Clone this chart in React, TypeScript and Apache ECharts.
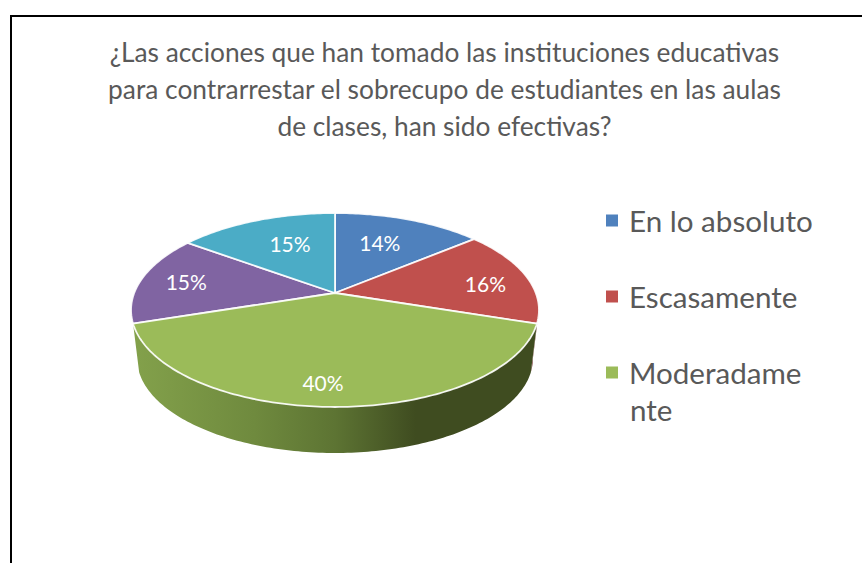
import React, { useEffect, useRef } from "react";
import * as echarts from "echarts";

const titleLines = [
  "¿Las acciones que han tomado las instituciones educativas",
  "para contrarrestar el sobrecupo de estudiantes en las aulas",
  "de clases, han sido efectivas?",
];
const categories = ["En lo absoluto", "Escasamente", "Moderadamente", "Categoria 4", "Categoria 5"];
const values = [14, 16, 40, 15, 15];
const legendCategories = ["En lo absoluto", "Escasamente", "Moderadamente"];
const colors = ["#4f81bd", "#c0504d", "#9bbb59", "#8064a2", "#4bacc6"];

const FONT = "Lato, Carlito, 'Open Sans', sans-serif";
const TEXT = "#595959";

// Perspective projection of the pie disc
const CX = 335;
const CY = 293;
const RA = 200.8;
const RB = 94;
const PERSP = 0.1753;
const DEPTH = 49.4;
const BOTTOM_SCALE = 0.97;

function project(deg: number, r = 1, k = 1, dy = 0): number[] {
  const t = (deg * Math.PI) / 180;
  const u = Math.sin(t) * r;
  const v = Math.cos(t) * r;
  const s = 1 / (1 + PERSP * v);
  return [CX + k * RA * u * s, CY + dy - k * RB * v * s];
}

function arc(a0: number, a1: number, k = 1, dy = 0): number[][] {
  const n = Math.max(2, Math.ceil(Math.abs(a1 - a0)));
  const out: number[][] = [];
  for (let i = 0; i <= n; i++) out.push(project(a0 + ((a1 - a0) * i) / n, 1, k, dy));
  return out;
}

const total = values.reduce((a, b) => a + b, 0);
const starts: number[] = [];
values.reduce((acc, v, i) => {
  starts[i] = (acc / total) * 360;
  return acc + v;
}, 0);

// label placement tuning per slice: radius factor and pixel nudge
const labelTune = [
  [0.6, -2, -4],
  [0.75, 6, 3],
  [0.85, -12, -4],
  [0.75, -3, -1],
  [0.6, 5, -4],
];

// sliver of the red slice's wall visible at the right silhouette
const RED_WALL_FROM = 100;

function sideGradient() {
  return new echarts.graphic.LinearGradient(0, 0, 1, 0, [
    { offset: 0, color: "#83a14b" },
    { offset: 0.3, color: "#6f8a3e" },
    { offset: 0.5, color: "#5d7433" },
    { offset: 0.7, color: "#3f4c20" },
    { offset: 1, color: "#3f4c20" },
  ]);
}

function makeRender(i: number) {
  return () => {
    const a0 = starts[i];
    const a1 = a0 + (values[i] / total) * 360;
    const children: any[] = [];
    if (i === 1) {
      children.push({
        type: "polygon",
        shape: { points: [...arc(RED_WALL_FROM, a1), ...arc(a1, RED_WALL_FROM, BOTTOM_SCALE, DEPTH)] },
        style: { fill: "#6e2e2c" },
      });
    }
    if (i === 2) {
      children.push({
        type: "polygon",
        shape: { points: [...arc(a0, a1), ...arc(a1, a0, BOTTOM_SCALE, DEPTH)] },
        style: { fill: sideGradient() },
      });
    }
    children.push({
      type: "polygon",
      shape: { points: [project(0, 0), ...arc(a0, a1)] },
      style: { fill: colors[i], stroke: "rgba(255,255,255,0.9)", lineWidth: 1.8, lineJoin: "round" },
    });
    const [r, dx, dy] = labelTune[i];
    const p = project((a0 + a1) / 2, r);
    children.push({
      type: "text",
      z2: 10,
      style: {
        x: p[0] + dx,
        y: p[1] + dy,
        text: `${values[i]}%`,
        fill: "#ffffff",
        font: `21px ${FONT}`,
        textAlign: "center",
        textVerticalAlign: "middle",
      },
    });
    return { type: "group", children };
  };
}

export default function App() {
  const ref = useRef<HTMLDivElement>(null);
  useEffect(() => {
    if (!ref.current) return;
    const chart = echarts.init(ref.current, undefined, { renderer: "svg" });
    chart.setOption({
      animation: false,
      backgroundColor: "#ffffff",
      title: {
        text: titleLines.join("\n"),
        left: 439.5,
        top: 28,
        textAlign: "center",
        textStyle: { color: TEXT, fontFamily: FONT, fontSize: 26.3, fontWeight: "normal", lineHeight: 37 },
      },
      legend: {
        data: legendCategories.map((name) => ({ name, icon: "rect" })),
        orient: "vertical",
        left: 606,
        top: 201,
        padding: 0,
        itemWidth: 12,
        itemHeight: 12,
        itemGap: 37,
        selectedMode: false,
        formatter: (name: string) => (name === "Moderadamente" ? "Moderadame" : name),
        textStyle: { color: TEXT, fontFamily: FONT, fontSize: 29.6, lineHeight: 35, padding: [0, 0, 4, 6] },
      },
      graphic: [
        {
          type: "polyline",
          shape: { points: [[11, 563], [11, 16], [862, 16]] },
          style: { stroke: "#000000", fill: "none", lineWidth: 2 },
        },
        {
          type: "text",
          x: 630,
          y: 409,
          style: { text: "nte", fill: TEXT, font: `29.6px ${FONT}`, textVerticalAlign: "middle" },
        },
      ],
      series: categories.map((name, i) => ({
        type: "custom",
        name,
        coordinateSystem: "none",
        itemStyle: { color: colors[i] },
        data: [[values[i]]],
        z: i === 2 ? 3 : 2,
        renderItem: makeRender(i),
      })),
    });
    return () => chart.dispose();
  }, []);
  return <div ref={ref} style={{ position: "fixed", left: 0, top: 0, width: 862, height: 563 }} />;
}
